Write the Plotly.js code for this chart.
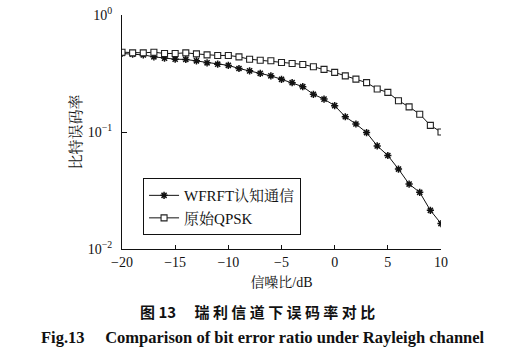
<!DOCTYPE html>
<html>
<head>
<meta charset="utf-8">
<script src="https://cdn.plot.ly/plotly-3.0.1.min.js"></script>
<style>
html,body{margin:0;padding:0;background:#fff;}
#chart{width:515px;height:357px;}
</style>
</head>
<body>
<div id="chart"></div>
<script>
// SNR in dB
const snr = [-20,-19,-18,-17,-16,-15,-14,-13,-12,-11,-10,-9,-8,-7,-6,-5,-4,-3,-2,-1,0,1,2,3,4,5,6,7,8,9,10];
// WFRFT cognitive communication BER
const berWFRFT = [0.469,0.463,0.456,0.439,0.428,0.419,0.417,0.406,0.390,0.380,0.371,0.349,0.333,0.317,0.302,0.282,0.264,0.244,0.210,0.191,0.168,0.135,0.117,0.0989,0.0761,0.0630,0.0482,0.0359,0.0305,0.0214,0.0165];
// Original QPSK BER
const berQPSK = [0.481,0.475,0.475,0.481,0.469,0.469,0.475,0.465,0.456,0.451,0.451,0.439,0.419,0.411,0.406,0.393,0.385,0.378,0.361,0.343,0.323,0.302,0.283,0.264,0.233,0.218,0.185,0.164,0.142,0.114,0.100];
const seriesNames = ['WFRFT认知通信', '原始QPSK'];
const yTickVals = [0.01, 0.1, 1];
const yTickText = ['10<sup>−2</sup>', '10<sup>−1</sup>', '10<sup>0</sup>'];
const xTitle = '信噪比/dB';
const yTitle = '比特误码率';
const captionCN = '图 13　 瑞 利 信 道 下 误 码 率 对 比';
const captionEN = 'Fig.13　 Comparison of bit error ratio under Rayleigh channel';

const serif = 'Liberation Serif, Times New Roman, Noto Serif CJK SC, Noto Sans CJK SC, serif';

const traces = [
  {
    x: snr, y: berWFRFT, name: seriesNames[0], type: 'scatter', mode: 'lines+markers',
    line: {color: '#111', width: 1},
    marker: {symbol: 'asterisk-open', size: 6, color: '#111', line: {color: '#111', width: 1.5}}
  },
  {
    x: snr, y: berQPSK, name: seriesNames[1], type: 'scatter', mode: 'lines+markers',
    line: {color: '#111', width: 1},
    marker: {symbol: 'square', size: 6, color: '#fff', line: {color: '#222', width: 1.1}}
  }
];

const layout = {
  width: 515, height: 357,
  margin: {l: 122, r: 74, t: 15, b: 108},
  paper_bgcolor: '#fff', plot_bgcolor: '#fff',
  font: {family: serif, size: 14, color: '#111'},
  showlegend: true,
  legend: {
    x: 0.066, y: 0.303, xanchor: 'left', yanchor: 'top',
    bordercolor: '#111', borderwidth: 1, bgcolor: '#fff',
    font: {family: serif, size: 15, color: '#111'},
    itemwidth: 30, tracegroupgap: 0
  },
  xaxis: {
    range: [-20, 10], dtick: 5, tick0: -20,
    showline: true, linecolor: '#111', linewidth: 1,
    showgrid: false, zeroline: false, mirror: false,
    ticks: 'inside', ticklen: 4, tickcolor: '#111',
    tickfont: {family: serif, size: 14, color: '#111'},
    title: {text: xTitle, font: {family: serif, size: 14, color: '#111'}, standoff: 8}
  },
  yaxis: {
    type: 'log', range: [-2, 0],
    tickmode: 'array', tickvals: yTickVals, ticktext: yTickText,
    showline: true, linecolor: '#111', linewidth: 1,
    showgrid: false, zeroline: false, mirror: false,
    ticks: 'inside', ticklen: 5, tickcolor: '#111',
    ticklabelstandoff: 6,
    tickfont: {family: serif, size: 14, color: '#111'},
    title: {text: yTitle, font: {family: serif, size: 15, color: '#111'}, standoff: 2}
  },
  annotations: [
    {xref: 'paper', yref: 'paper', x: 0.424, y: 0, xanchor: 'center', yanchor: 'middle', yshift: -62,
     showarrow: false, text: captionCN,
     font: {family: 'Noto Sans CJK SC, sans-serif', size: 15, weight: 600, color: '#111'}},
    {xref: 'paper', yref: 'paper', x: 0.443, y: 0, xanchor: 'center', yanchor: 'middle', yshift: -88,
     showarrow: false, text: '<b>' + captionEN + '</b>',
     font: {family: serif, size: 16.5, color: '#111'}}
  ]
};

Plotly.newPlot('chart', traces, layout, {staticPlot: true, displayModeBar: false});
</script>
</body>
</html>
